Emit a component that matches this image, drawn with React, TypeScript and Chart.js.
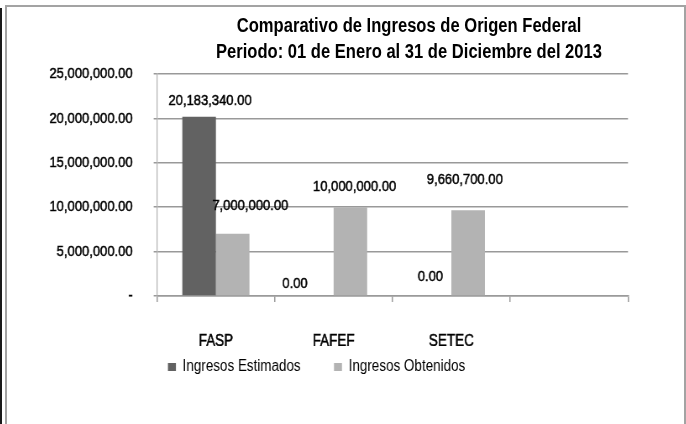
import React, { useEffect, useRef } from 'react';
import { Chart, registerables } from 'chart.js';

Chart.register(...registerables);

// ---- data ----
const categories = ['FASP', 'FAFEF', 'SETEC', ''];
const seriesNames = ['Ingresos Estimados', 'Ingresos Obtenidos'];
const estimados: (number | null)[] = [20183340, 0, 0, null];
const obtenidos: (number | null)[] = [7000000, 10000000, 9660700, null];
const yTickValues = [0, 5000000, 10000000, 15000000, 20000000, 25000000];
const titleLines = [
  'Comparativo de Ingresos de Origen Federal',
  'Periodo: 01 de Enero al 31 de Diciembre del 2013',
];
// value-label nudges relative to each bar's top centre: [dx, dy above]
const estLabelNudge = [[13, 16], [-26, 12.5], [-5, 19]];
const obtLabelNudge = [[21, 28], [5, 20], [-4, 30]];

const FONT = '"Liberation Sans", Arial, sans-serif';
const SQUEEZE = 0.84; // horizontal condensing of the canvas
const CSS_W = 677;
const CSS_H = 417;
const LOGICAL_W = Math.round(CSS_W / SQUEEZE);

const fmt = (v: number) =>
  v.toLocaleString('en-US', { minimumFractionDigits: 2, maximumFractionDigits: 2 });

const valueLabels = {
  id: 'valueLabels',
  afterDatasetsDraw(chart: any) {
    const ctx = chart.ctx;
    ctx.save();
    ctx.font = `15.5px ${FONT}`;
    ctx.fillStyle = '#000';
    ctx.strokeStyle = '#000';
    ctx.lineWidth = 0.5;
    ctx.textAlign = 'center';
    ctx.textBaseline = 'middle';
    chart.data.datasets.forEach((ds: any, di: number) => {
      const meta = chart.getDatasetMeta(di);
      const nudges = di === 0 ? estLabelNudge : obtLabelNudge;
      meta.data.forEach((el: any, i: number) => {
        const v = ds.data[i];
        if (v == null || !nudges[i]) return;
        const [dx, dy] = nudges[i];
        ctx.strokeText(fmt(v), el.x + dx, el.y - dy);
        ctx.fillText(fmt(v), el.x + dx, el.y - dy);
      });
    });
    ctx.restore();
  },
};

export default function App() {
  const ref = useRef<HTMLCanvasElement | null>(null);

  useEffect(() => {
    if (!ref.current) return;
    const chart = new Chart(ref.current, {
      type: 'bar',
      data: {
        labels: categories,
        datasets: [
          {
            label: seriesNames[0],
            data: estimados,
            backgroundColor: '#626262',
            borderWidth: 0,
            categoryPercentage: 0.57,
            barPercentage: 1.0,
          },
          {
            label: seriesNames[1],
            data: obtenidos,
            backgroundColor: '#b3b3b3',
            borderWidth: 0,
            categoryPercentage: 0.57,
            barPercentage: 1.0,
          },
        ],
      },
      options: {
        responsive: false,
        animation: false,
        devicePixelRatio: 1,
        layout: { padding: { top: 67, left: 20, right: 66.7, bottom: 39 } },
        plugins: {
          title: { display: false },
          tooltip: { enabled: false },
          legend: {
            position: 'bottom',
            align: 'start',
            fullSize: false,
            labels: {
              boxWidth: 9.5,
              boxHeight: 8,
              padding: 13,
              color: '#000',
              font: { family: FONT, size: 16 },
              generateLabels: (c: any) => {
                const items = (Chart.defaults.plugins.legend.labels as any).generateLabels(c);
                return items.map((it: any, i: number) => ({
                  ...it,
                  lineWidth: 0,
                  text: i < items.length - 1 ? it.text + '      ' : it.text,
                }));
              },
            },
          },
        },
        scales: {
          x: {
            offset: true,
            grid: {
              display: true,
              drawOnChartArea: false,
              drawTicks: true,
              tickLength: 6,
              offset: true,
              color: '#9a9a9a',
              lineWidth: 1.5,
            },
            border: { display: true, color: '#9a9a9a', width: 1.5 },
            ticks: {
              color: '#000',
              font: { family: FONT, size: 16 },
              padding: 29.5,
              maxRotation: 0,
              autoSkip: false,
              textStrokeColor: '#000',
              textStrokeWidth: 0.5,
            },
            afterFit: (s: any) => {
              s.height = 50;
            },
          },
          y: {
            min: 0,
            max: 25000000,
            afterBuildTicks: (s: any) => {
              s.ticks = yTickValues.map((v) => ({ value: v }));
            },
            grid: { color: '#999999', lineWidth: 1.5, drawTicks: true, tickLength: 4 },
            border: { display: true, color: '#b0b0b0', width: 1.2 },
            ticks: {
              color: '#000',
              font: { family: FONT, size: 15.5 },
              padding: 25,
              textStrokeColor: '#000',
              textStrokeWidth: 0.5,
              callback: (v: any) => (Number(v) === 0 ? '-' : fmt(Number(v))),
            },
            afterFit: (s: any) => {
              s.width = 158.6;
            },
          },
        },
      },
      plugins: [valueLabels],
    } as any);
    return () => chart.destroy();
  }, []);

  return (
    <div
      style={{
        position: 'fixed',
        left: 0,
        top: 0,
        width: 686,
        height: 424,
        background: '#fff',
        overflow: 'hidden',
      }}
    >
      <div
        style={{
          position: 'absolute',
          left: 0,
          top: 8,
          width: 2,
          height: 416,
          background: '#1a1a1a',
        }}
      />
      <div
        style={{
          position: 'absolute',
          left: 5,
          top: 5,
          width: 681,
          height: 440,
          boxSizing: 'border-box',
          border: '2px solid #a3a3a3',
        }}
      >
        <canvas
          ref={ref}
          width={LOGICAL_W}
          height={CSS_H}
          style={{ position: 'absolute', left: 0, top: 0, width: `${CSS_W}px`, height: `${CSS_H}px` }}
        />
      </div>
      <div
        style={{
          position: 'absolute',
          left: 409 - 320,
          top: 11.6,
          width: 640,
          textAlign: 'center',
          font: `bold 19.5px ${FONT}`,
          lineHeight: '26.7px',
          transform: 'scaleX(0.85)',
          transformOrigin: '50% 50%',
          color: '#000',
          whiteSpace: 'nowrap',
        }}
      >
        {titleLines.map((l) => (
          <div key={l}>{l}</div>
        ))}
      </div>
    </div>
  );
}
